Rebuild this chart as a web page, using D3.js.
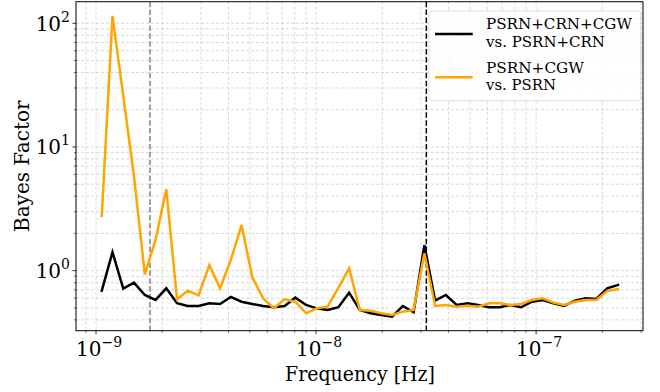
<!DOCTYPE html>
<html>
<head>
<meta charset="utf-8">
<script src="https://cdn.jsdelivr.net/npm/d3@7"></script>
<style>
  html, body { margin: 0; padding: 0; background: #fff; }
  svg { display: block; }
</style>
</head>
<body>
<svg id="chart" width="660" height="392"></svg>
<script>
// ---- data ----
const frequencies = [
  1.062e-9, 1.188e-9, 1.330e-9, 1.488e-9, 1.666e-9, 1.864e-9, 2.086e-9, 2.334e-9,
  2.612e-9, 2.924e-9, 3.272e-9, 3.662e-9, 4.098e-9, 4.586e-9, 5.132e-9, 5.743e-9,
  6.427e-9, 7.193e-9, 8.049e-9, 9.008e-9, 1.008e-8, 1.128e-8, 1.263e-8, 1.413e-8,
  1.581e-8, 1.769e-8, 1.980e-8, 2.216e-8, 2.480e-8, 2.775e-8, 3.106e-8, 3.476e-8,
  3.890e-8, 4.353e-8, 4.872e-8, 5.452e-8, 6.101e-8, 6.828e-8, 7.641e-8, 8.551e-8,
  9.569e-8, 1.0709e-7, 1.1984e-7, 1.3412e-7, 1.5009e-7, 1.6797e-7, 1.8797e-7, 2.1036e-7,
  2.3542e-7
];
const bfCrnCgw = [
  0.689, 1.41, 0.715, 0.80, 0.636, 0.58, 0.72, 0.545,
  0.518, 0.518, 0.545, 0.538, 0.613, 0.561, 0.538, 0.518,
  0.506, 0.518, 0.605, 0.528, 0.496, 0.481, 0.506, 0.664,
  0.481, 0.452, 0.438, 0.424, 0.518, 0.461, 1.61, 0.572,
  0.636, 0.528, 0.545, 0.528, 0.506, 0.506, 0.528, 0.506,
  0.561, 0.579, 0.545, 0.518, 0.572, 0.598, 0.59, 0.72,
  0.766
];
const bfCgw = [
  2.77, 115, 25.9, 5.8, 0.935, 1.77, 4.56, 0.587,
  0.69, 0.632, 1.11, 0.72, 1.22, 2.34, 0.885, 0.598,
  0.496, 0.587, 0.561, 0.452, 0.496, 0.511, 0.725, 1.045,
  0.481, 0.475, 0.452, 0.438, 0.466, 0.481, 1.38, 0.518,
  0.528, 0.511, 0.52, 0.511, 0.545, 0.545, 0.528, 0.538,
  0.579, 0.598, 0.551, 0.528, 0.561, 0.579, 0.579, 0.685,
  0.707
];
const seriesNames = [["PSRN+CRN+CGW", "vs. PSRN+CRN"], ["PSRN+CGW", "vs. PSRN"]];
const seriesColors = ["#000000", "#ffa500"];
const xTickExponents = [-9, -8, -7];
const yTickExponents = [0, 1, 2];
const vLineFreqs = [1.759e-9, 3.17e-8];
const xLabel = "Frequency [Hz]";
const yLabel = "Bayes Factor";

const FONT = "'DejaVu Serif', serif";

// ---- layout ----
const L = 76, R = 643, T = 1.7, B = 330.7;
const svg = d3.select("#chart");

const x = d3.scaleLog().domain([8.11e-10, 3.06e-7]).range([L, R]);
const y = d3.scaleLog().domain([0.327, 149.5]).range([B, T]);

function logTicks(domain) {
  const out = [];
  const lo = Math.floor(Math.log10(domain[0])), hi = Math.ceil(Math.log10(domain[1]));
  for (let e = lo; e <= hi; e++) for (let m = 1; m <= 9; m++) {
    const v = m * Math.pow(10, e);
    if (v >= domain[0] && v <= domain[1]) out.push({v, major: m === 1});
  }
  return out;
}
const xt = logTicks(x.domain()), yt = logTicks(y.domain());

const grid = svg.append("g");
grid.selectAll("line.gx").data(xt).join("line")
  .attr("x1", d => x(d.v)).attr("x2", d => x(d.v)).attr("y1", T).attr("y2", B)
  .attr("stroke", "#cfcfcf").attr("stroke-width", 0.8).attr("stroke-dasharray", "3,2");
grid.selectAll("line.gy").data(yt).join("line")
  .attr("y1", d => y(d.v)).attr("y2", d => y(d.v)).attr("x1", L).attr("x2", R)
  .attr("stroke", "#cfcfcf").attr("stroke-width", 0.8).attr("stroke-dasharray", "3,2");

svg.append("line")
  .attr("x1", x(vLineFreqs[0])).attr("x2", x(vLineFreqs[0])).attr("y1", T).attr("y2", B)
  .attr("stroke", "#808080").attr("stroke-width", 1.5).attr("stroke-dasharray", "5.5,2.4");
svg.append("line")
  .attr("x1", x(vLineFreqs[1])).attr("x2", x(vLineFreqs[1])).attr("y1", T).attr("y2", B)
  .attr("stroke", "#000").attr("stroke-width", 1.5).attr("stroke-dasharray", "5.5,2.4");

const line = d3.line().x(d => x(d[0])).y(d => y(d[1]));
[bfCrnCgw, bfCgw].forEach((vals, i) => {
  svg.append("path")
    .datum(frequencies.map((f, j) => [f, vals[j]]))
    .attr("d", line).attr("fill", "none")
    .attr("stroke", seriesColors[i]).attr("stroke-width", 2.5)
    .attr("stroke-linejoin", "miter").attr("stroke-linecap", "square");
});

svg.append("rect").attr("x", L).attr("y", T).attr("width", R - L).attr("height", B - T)
  .attr("fill", "none").attr("stroke", "#000").attr("stroke-width", 1);

const tk = svg.append("g");
tk.selectAll("line.tx").data(xt).join("line")
  .attr("x1", d => x(d.v)).attr("x2", d => x(d.v)).attr("y1", B).attr("y2", d => B + (d.major ? 3.5 : 2))
  .attr("stroke", "#000").attr("stroke-width", d => d.major ? 0.8 : 0.6);
tk.selectAll("line.ty").data(yt).join("line")
  .attr("y1", d => y(d.v)).attr("y2", d => y(d.v)).attr("x1", L).attr("x2", d => L - (d.major ? 3.5 : 2))
  .attr("stroke", "#000").attr("stroke-width", d => d.major ? 0.8 : 0.6);

function addText(sel) {
  return sel.append("text").attr("font-family", FONT).attr("fill", "#000")
    .style("font-weight", "normal");
}

xTickExponents.forEach(e => {
  const t = addText(svg).attr("x", x(Math.pow(10, e)) + 3).attr("y", 356)
    .attr("text-anchor", "middle").attr("font-size", 20);
  t.append("tspan").text("10");
  t.append("tspan").attr("dy", -9).attr("font-size", 14).text("\u2212" + Math.abs(e));
});
yTickExponents.forEach(e => {
  const t = addText(svg).attr("x", 70).attr("y", y(Math.pow(10, e)) + 7.5)
    .attr("text-anchor", "end").attr("font-size", 20);
  t.append("tspan").text("10");
  t.append("tspan").attr("dy", -9).attr("font-size", 14).text(String(e));
});

addText(svg).attr("x", 360).attr("y", 381).attr("text-anchor", "middle")
  .attr("font-size", 20).attr("textLength", 150).attr("lengthAdjust", "spacingAndGlyphs").text(xLabel);
addText(svg).attr("transform", `translate(29,${(T + B) / 2}) rotate(-90)`)
  .attr("text-anchor", "middle").attr("font-size", 20).text(yLabel);

const lg = svg.append("g");
lg.append("rect").attr("x", 429).attr("y", 11).attr("width", 211.7).attr("height", 89.7)
  .attr("rx", 3).attr("fill", "#fff").attr("fill-opacity", 0.8)
  .attr("stroke", "#d9d9d9").attr("stroke-width", 0.9);
const rowY = [34, 77.3];
const legendWidths = [[146, 119], [98, 70]];
seriesNames.forEach((names, i) => {
  lg.append("line").attr("x1", 435).attr("x2", 472.7).attr("y1", rowY[i]).attr("y2", rowY[i])
    .attr("stroke", seriesColors[i]).attr("stroke-width", 2.5);
  names.forEach((n, k) => {
    addText(lg).attr("x", 486).attr("y", rowY[i] - 4.7 + k * 17.6)
      .attr("font-size", 15).attr("textLength", legendWidths[i][k])
      .attr("lengthAdjust", "spacingAndGlyphs").text(n);
  });
});
</script>
</body>
</html>
